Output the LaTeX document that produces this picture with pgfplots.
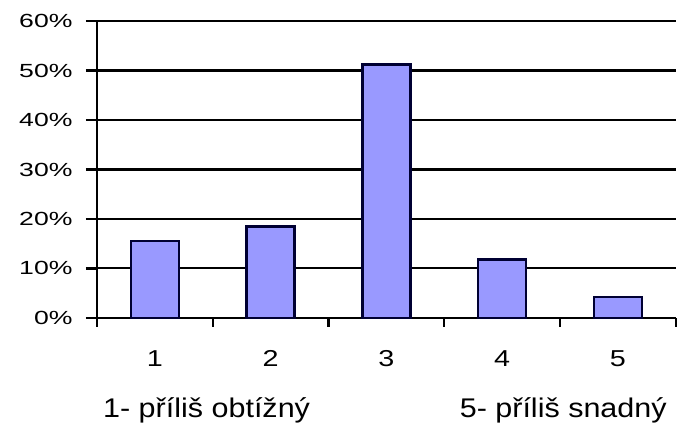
\documentclass[border=0pt]{standalone}
\usepackage{fontspec}
\setmainfont{Liberation Sans}
\usepackage{graphicx}
\usepackage{pgfplots}
\pgfplotsset{compat=1.18}
\definecolor{barfill}{HTML}{9999FF}
\definecolor{baredge}{HTML}{000033}
\newcommand{\ylab}[1]{\scalebox{1.4}[1]{\fontsize{19}{19}\selectfont #1}}
\newcommand{\xlab}[1]{\scalebox{1.25}[1]{\fontsize{23}{23}\selectfont #1}}
\begin{document}
\begin{tikzpicture}
\begin{axis}[
  at={(0,0)}, anchor=south west,
  scale only axis,
  width=579pt, height=297pt,
  xmin=-0.5, xmax=4.5,
  ymin=0, ymax=60,
  axis x line*=bottom, axis y line*=left,
  axis line style={-, line width=2.3pt, black},
  ybar, bar width=48pt,
  xtick={0,1,2,3,4},
  xticklabels={\xlab{1},\xlab{2},\xlab{3},\xlab{4},\xlab{5}},
  major x tick style={draw=none},
  minor xtick={-0.5,0.5,1.5,2.5,3.5,4.5},
  minor x tick style={line width=2.2pt, black},
  minor tick length=9pt,
  ytick={0,10,20,30,40,50,60},
  yticklabels={\ylab{0\%},\ylab{10\%},\ylab{20\%},\ylab{30\%},\ylab{40\%},\ylab{50\%},\ylab{60\%}},
  major y tick style={line width=2.2pt, black},
  major tick length=11pt,
  tick align=outside,
  ymajorgrids,
  grid style={line width=2.1pt, black},
  yticklabel style={anchor=east, xshift=-10pt},
  xticklabel style={anchor=north, yshift=-18pt},
  clip=false,
]
\addplot[fill=barfill, draw=baredge, line width=2.4pt] coordinates {
  (0,15.5) (1,18.5) (2,51.2) (3,11.8) (4,4.2)
};
\end{axis}
\node[anchor=base west, inner sep=0pt, font=\fontsize{27}{27}\selectfont] at (6pt,-100pt) {\scalebox{1.13}[1]{1- příliš obtížný}};
\node[anchor=base east, inner sep=0pt, font=\fontsize{27}{27}\selectfont] at (570pt,-100pt) {\scalebox{1.13}[1]{5- příliš snadný}};
\path[use as bounding box] (-97pt,-107pt) rectangle (580pt,318pt);
\end{tikzpicture}
\end{document}
